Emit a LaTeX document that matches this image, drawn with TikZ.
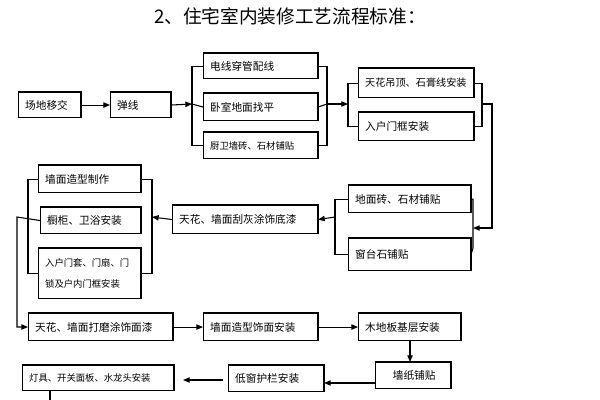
\documentclass[tikz,border=0pt]{standalone}
\usepackage{fontspec}
\setmainfont{Noto Sans CJK SC}
\usetikzlibrary{arrows.meta}
\begin{document}
\begin{tikzpicture}[x=0.75pt,y=-0.75pt,
  bx/.style={draw,line width=0.8pt,inner ysep=0pt,inner xsep=5pt,anchor=north west,font=\fontsize{8}{9.5}\selectfont,align=left},
  ln/.style={line width=0.8pt},
  ar/.style={ln,-{Triangle[length=5pt,width=4pt]}}]
\useasboundingbox (0,0) rectangle (600,400);
\newcommand\bx[6]{\pgfmathsetmacro\ww{(#4-#2)*0.75}\pgfmathsetmacro\hh{(#5-#3)*0.75}%
  \node[bx,minimum width=\ww pt,minimum height=\hh pt,text width=\ww pt-10pt] (#1) at (#2,#3) {#6};
  \draw[line width=1.4pt] (#1.north west)--(#1.north east)--(#1.south east);}
\node[font=\fontsize{14}{16}\selectfont] (title) at (290,16) {2、住宅室内装修工艺流程标准：};
% row 1
\bx{a}{18}{92}{80}{117}{场地移交}
\bx{b}{110}{92}{170}{117}{弹线}
\bx{c1}{203}{53}{317}{78}{电线穿管配线}
\bx{c2}{203}{93}{317}{120}{卧室地面找平}
\bx{c3}{203}{132}{317}{158}{\fontsize{7}{8}\selectfont 厨卫墙砖、石材铺贴}
\bx{d1}{358}{68}{473}{97}{\fontsize{7.6}{9}\selectfont 天花吊顶、石膏线安装}
\bx{d2}{358}{112}{473}{140}{入户门框安装}
% row 2
\bx{e1}{348}{185}{470}{212}{地面砖、石材铺贴}
\bx{e2}{348}{238}{470}{270}{窗台石铺贴}
\bx{f}{172}{205}{317}{233}{天花、墙面刮灰涂饰底漆}
\bx{g1}{38}{165}{140}{192}{墙面造型制作}
\bx{g2}{40}{207}{140}{233}{橱柜、卫浴安装}
\bx{g3}{38}{248}{140}{298}{\fontsize{7}{8}\selectfont 入户门套、门扇、门\\[6pt]\fontsize{7}{8}\selectfont 锁及户内门框安装}
% row 3
\bx{h1}{28}{313}{172}{340}{天花、墙面打磨涂饰面漆}
\bx{h2}{203}{313}{317}{340}{墙面造型饰面安装}
\bx{h3}{358}{313}{460}{340}{木地板基层安装}
\bx{i1}{375}{362}{450}{388}{\quad 墙纸铺贴}
\bx{i2}{228}{365}{323}{391}{低窗护栏安装}
\bx{i3}{22}{365}{173}{390}{\fontsize{7}{8}\selectfont 灯具、开关面板、水龙头安装}
% connectors
\coordinate (cL) at (192,104); \coordinate (cR) at (327,104);
\coordinate (dL) at (348,104); \coordinate (dR) at (482,104);
\coordinate (eR) at (473,228); \coordinate (eL) at (335,217);
\coordinate (gR) at (152,217); \coordinate (gL) at (28,217);
\draw[ar] (a) -- (b);
\draw[ar] (b.east) -- (cL);
\draw[ln] (c1.west) -| (cL) |- (c3.west); \draw[ln] (cL) -- (c2.west);
\draw[ln] (c1.east) -| (cR) |- (c3.east); \draw[ln] (c2.east) -- (cR);
\draw[ar] (cR) -- (dL);
\draw[ln] (d1.west) -| (dL) |- (d2.west);
\draw[ln] (d1.east) -| (dR) |- (d2.east);
\coordinate (dR2) at (492,104); \coordinate (dR3) at (492,228);
\draw[ar] (dR) -- (dR2) -- (dR3) -- (eR);
\draw[ln] (e1.east) -| (473,248) -- (e2.east);
\draw[ln] (e1.west) -| (eL) |- (e2.west);
\draw[ar] (eL) -- (f.east);
\draw[ar] (f.west) -- (gR);
\draw[ln] (g1.east) -| (gR) |- (g3.east);
\draw[ln] (g1.west) -| (gL) |- (g3.west);
\coordinate (s1) at (17,217); \coordinate (s2) at (17,327);
\draw[ar] (g2.west) -- (s1) -- (s2) -- (h1.west);
\draw[ar] (h1) -- (h2);
\draw[ar] (h2) -- (h3);
\draw[ar] (h3.south -| 410,0) -- (i1.north -| 410,0);
\draw[ar] (i1.west |- 0,383) -- (i2.east |- 0,383);
\coordinate (t1) at (223,380); \coordinate (t2) at (183,380);
\draw[ar] (t1) -- (t2);
\coordinate (u) at (50,400);
\draw[ln] (i3.south -| u) -- (u);
\end{tikzpicture}
\end{document}
